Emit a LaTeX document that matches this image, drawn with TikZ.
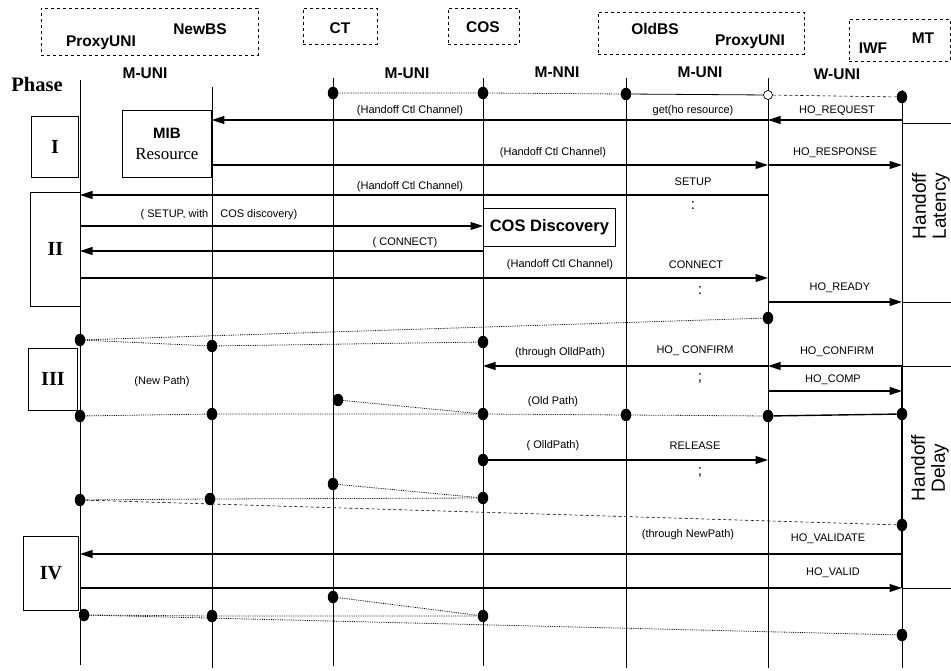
\documentclass[tikz,border=0pt]{standalone}
\usepackage{fontspec}
\setmainfont{Liberation Serif}
\setsansfont{Liberation Sans}
\usetikzlibrary{arrows.meta,shapes.geometric}

\begin{document}
\begin{tikzpicture}[x=1pt,y=-1pt,
  lifeline/.style={line width=0.9pt},
  msg/.style={line width=1.1pt,-{Triangle[length=12.5pt,width=8pt]}},
  dot/.style={ellipse,fill=black,draw=none,inner sep=0pt,minimum width=10.5pt,minimum height=12.5pt},
  odot/.style={circle,draw=black,line width=0.7pt,fill=white,inner sep=0pt,minimum size=9pt},
  link/.style={densely dotted,line width=0.8pt},
  dlink/.style={dash pattern=on 3pt off 2.5pt,line width=0.6pt},
  hdrbox/.style={draw,dashed,line width=0.7pt,anchor=north west,inner sep=0pt},
  phbox/.style={draw,line width=0.8pt,anchor=north west,inner sep=0pt,font=\fontsize{20}{22}\selectfont\bfseries},
  hdr/.style={font=\sffamily\bfseries\fontsize{15.5}{17}\selectfont,inner sep=0pt},
  lbl/.style={font=\sffamily\fontsize{11}{13}\selectfont,inner sep=0pt},
  sep/.style={font=\sffamily\fontsize{15}{17}\selectfont,inner sep=0pt},
  delay/.style={font=\sffamily\fontsize{19}{20}\selectfont,rotate=90,align=center,inner sep=0pt}
]
\useasboundingbox (0,0) rectangle (951,671);

% ---- entity groups (dashed boxes) ----
\node[hdrbox,minimum width=217pt,minimum height=47pt] (gNew) at (41,8) {};
\node[hdrbox,minimum width=74pt,minimum height=36pt] (gCT) at (303,8) {};
\node[hdrbox,minimum width=71pt,minimum height=36pt] (gCOS) at (448,8) {};
\node[hdrbox,minimum width=206pt,minimum height=42pt] (gOld) at (598,12) {};
\node[hdrbox,minimum width=101pt,minimum height=42pt] (gMT) at (849,19) {};

\node[hdr] (tPx1) at (101,43) {ProxyUNI};
\node[hdr] (tNew) at (200,29) {NewBS};
\node[hdr] (tCT) at (340,28) {CT};
\node[hdr] (tCOS) at (483,27) {COS};
\node[hdr] (tOld) at (655,29) {OldBS};
\node[hdr] (tPx2) at (750,42) {ProxyUNI};
\node[hdr] (tIWF) at (873,48) {IWF};
\node[hdr] (tMT) at (923,38) {MT};

% ---- interface names ----
\node[font=\bfseries\fontsize{20.5}{22}\selectfont,inner sep=0pt] (tPhase) at (37,84) {Phase};
\node[hdr] (i1) at (145,73) {M-UNI};
\node[hdr] (i2) at (407,73) {M-UNI};
\node[hdr] (i3) at (557,72) {M-NNI};
\node[hdr] (i4) at (700,72) {M-UNI};
\node[hdr] (i5) at (837,74) {W-UNI};

% ---- lifelines ----
\coordinate (L1) at (80,80);   \coordinate (L1b) at (80,665);
\coordinate (L2) at (212,87);  \coordinate (L2b) at (212,668);
\coordinate (L3) at (333,78);  \coordinate (L3b) at (333,666);
\coordinate (L4) at (483,78);  \coordinate (L4b) at (483,666);
\coordinate (L5) at (626,78);  \coordinate (L5b) at (626,668);
\coordinate (L6) at (768,78);  \coordinate (L6b) at (768,668);
\coordinate (L7) at (902,90);  \coordinate (L7b) at (902,668);
\foreach \a in {L1,L2,L3,L4,L5,L6,L7} \draw[lifeline] (\a) -- (\a b);

% ---- message rows ----
\coordinate (r1) at (0,120);
\coordinate (r2) at (0,165);
\coordinate (r3) at (0,195);
\coordinate (r4) at (0,226);
\coordinate (r5) at (0,251);
\coordinate (r6) at (0,278);
\coordinate (r7) at (0,302);
\coordinate (r8) at (0,366);
\coordinate (r9) at (0,391);
\coordinate (r10) at (0,460);
\coordinate (r11) at (0,554);
\coordinate (r12) at (0,588);

% ---- handoff intervals on the right ----
\draw[line width=0.8pt] (L7|-0,123) -- (951,123);
\draw[line width=0.8pt] (L7|-r7) -- (951,302);
\node[delay] (hLat) at (931,206) {Handoff\\Latency};
\draw[line width=0.8pt] (L7|-r8) -- (951,366);
\draw[line width=0.8pt] (L7|-r12) -- (951,588);
\draw[line width=1.8pt] (L7|-r8) -- (L7|-r12);
\node[delay] (hDel) at (930,468) {Handoff\\Delay};

% ---- phase boxes ----
\node[phbox,minimum width=47pt,minimum height=61pt] (ph1) at (31,116) {I};
\node[phbox,minimum width=50pt,minimum height=114pt] (ph2) at (30,192) {II};
\node[phbox,minimum width=49pt,minimum height=62pt] (ph3) at (28,348) {III};
\node[phbox,minimum width=55pt,minimum height=74pt] (ph4) at (23,536) {IV};

% ---- MIB and COS discovery ----
\node[draw,line width=0.8pt,anchor=north west,minimum width=89pt,minimum height=67pt,inner sep=0pt,
  align=center,font=\fontsize{17}{21}\selectfont] (mib) at (122,110)
  {{\sffamily\bfseries\fontsize{15}{17}\selectfont MIB}\\Resource};
\node[draw,line width=0.8pt,anchor=north west,minimum width=132pt,minimum height=38pt,inner sep=0pt,
  font=\sffamily\bfseries\fontsize{16.5}{18}\selectfont] (cos) at (483,208) {COS Discovery};

% ---- top control channel ----
\node[dot] (a3) at (333,93) {};
\node[dot] (a4) at (483,93) {};
\node[dot] (a5) at (626,94) {};
\node[odot] (a6) at (768,95) {};
\node[dot] (a7) at (902,97) {};
\draw[link] (a3) -- (a4) -- (a5);
\draw[line width=0.8pt] (a5) -- (a6);
\draw[dlink] (a6) -- (a7);

% ---- Phase I ----
\draw[msg] (L7|-r1) -- (L6|-r1);
\draw[msg] (L6|-r1) -- (mib.east|-r1);
\node[lbl] at (837,111) {HO\_REQUEST};
\node[lbl] at (693,111) {get(ho resource)};
\node[lbl] at (410,111) {(Handoff Ctl Channel)};

\draw[msg] (mib.east|-r2) -- (L6|-r2);
\draw[msg] (L6|-r2) -- (L7|-r2);
\node[lbl] at (553,153) {(Handoff Ctl Channel)};
\node[lbl] at (835,153) {HO\_RESPONSE};

% ---- Phase II ----
\draw[msg] (L6|-r3) -- (L1|-r3);
\node[lbl] at (410,187) {(Handoff Ctl Channel)};
\node[lbl] at (693,182) {SETUP};
\node[sep] at (693,206) {:};

\draw[msg] (L1|-r4) -- (cos.west|-r4);
\node[lbl] at (219,215) {( SETUP, with\hspace{12pt}COS discovery)};

\draw[msg] (cos.west|-r5) -- (L1|-r5);
\node[lbl] at (405,243) {( CONNECT)};

\draw[msg] (L1|-r6) -- (L6|-r6);
\node[lbl] at (560,265) {(Handoff Ctl Channel)};
\node[lbl] at (696,265) {CONNECT};
\node[sep] at (700,291) {:};

\draw[msg] (L6|-r7) -- (L7|-r7);
\node[lbl] at (840,288) {HO\_READY};

% ---- new path set-up ----
\node[dot] (b6) at (768,318) {};
\node[dot] (b1) at (80,340) {};
\node[dot] (b2) at (212,346) {};
\node[dot] (b4) at (483,342) {};
\draw[link] (b1) -- (b6);
\draw[link] (b1) -- (b2) -- (b4);

% ---- Phase III ----
\draw[msg] (L7|-r8) -- (L6|-r8);
\draw[msg] (L6|-r8) -- (L4|-r8);
\node[lbl] at (837,352) {HO\_CONFIRM};
\node[lbl] at (695,351) {HO\_ CONFIRM};
\node[lbl] at (560,353) {(through OlldPath)};
\node[sep] at (700,378) {;};

\draw[msg] (L6|-r9) -- (L7|-r9);
\node[lbl] at (833,380) {HO\_COMP};

\node[lbl] at (162,382) {(New Path)};

\node[dot] (c3) at (338,400) {};
\node[dot] (c1) at (80,416) {};
\node[dot] (c2) at (212,414) {};
\node[dot] (c4) at (483,414) {};
\node[dot] (c5) at (626,415) {};
\node[dot] (c6) at (768,416) {};
\node[dot] (c7) at (902,414) {};
\draw[link] (c3) -- (c4);
\draw[link] (c1) -- (c2) -- (c4) -- (c5) -- (c6);
\draw[line width=1.4pt] (c6) -- (c7);
\node[lbl] at (553,402) {(Old Path)};

% ---- release of the old path ----
\node[dot] (e4) at (483,460) {};
\draw[msg] (e4) -- (L6|-r10);
\node[lbl] at (553,446) {( OlldPath)};
\node[lbl] at (695,446) {RELEASE};
\node[sep] at (700,472) {;};

\node[dot] (f3) at (333,484) {};
\node[dot] (f1) at (80,500) {};
\node[dot] (f2) at (210,499) {};
\node[dot] (f4) at (483,498) {};
\node[dot] (f7) at (902,525) {};
\draw[link] (f3) -- (f4);
\draw[link] (f1) -- (f2) -- (f4);
\draw[dlink] (f1) -- (f7);

% ---- Phase IV ----
\draw[msg] (L7|-r11) -- (L1|-r11);
\node[lbl] at (688,535) {(through NewPath)};
\node[lbl] at (828,539) {HO\_VALIDATE};

\draw[msg] (L1|-r12) -- (L7|-r12);
\node[lbl] at (833,573) {HO\_VALID};

\node[dot] (g3) at (333,597) {};
\node[dot] (g1) at (84,615) {};
\node[dot] (g2) at (212,616) {};
\node[dot] (g4) at (483,616) {};
\node[dot] (g7) at (902,635) {};
\draw[link] (g3) -- (g4);
\draw[link] (g1) -- (g2) -- (g4);
\draw[link] (g1) -- (g7);
\end{tikzpicture}
\end{document}
